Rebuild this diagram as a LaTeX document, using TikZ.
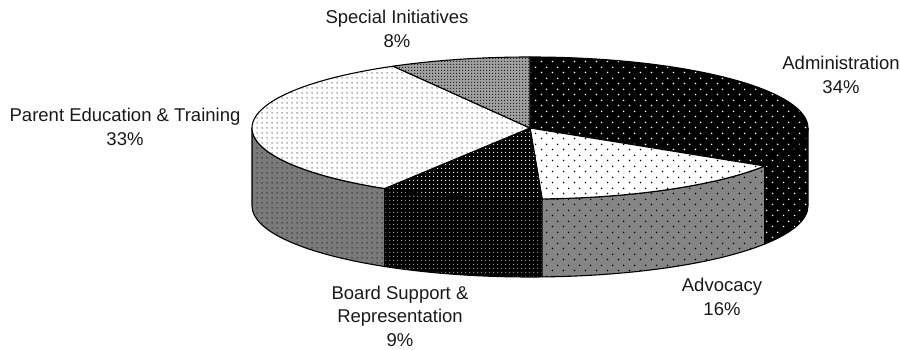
\documentclass[tikz,border=0pt]{standalone}
\usepackage{fontspec}
\setmainfont{Liberation Sans}
\usetikzlibrary{patterns,calc}

\pgfdeclarepatternformonly{sparsedots}{\pgfpointorigin}{\pgfpoint{11pt}{11pt}}{\pgfpoint{11pt}{11pt}}{%
  \pgfpathcircle{\pgfpoint{2.75pt}{2.75pt}}{0.9pt}%
  \pgfpathcircle{\pgfpoint{8.25pt}{8.25pt}}{0.9pt}%
  \pgfusepath{fill}}
\pgfdeclarepatternformonly{densedots}{\pgfpointorigin}{\pgfpoint{5pt}{5pt}}{\pgfpoint{5pt}{5pt}}{%
  \pgfpathcircle{\pgfpoint{2.5pt}{2.5pt}}{0.95pt}\pgfusepath{fill}}
\pgfdeclarepatternformonly{finedots}{\pgfpointorigin}{\pgfpoint{4pt}{4pt}}{\pgfpoint{4pt}{4pt}}{%
  \pgfpathcircle{\pgfpoint{2pt}{2pt}}{0.9pt}\pgfusepath{fill}}
\pgfdeclarepatternformonly{checkdots}{\pgfpointorigin}{\pgfpoint{3pt}{3pt}}{\pgfpoint{3pt}{3pt}}{%
  \pgfpathrectangle{\pgfpoint{0pt}{0pt}}{\pgfpoint{1.5pt}{1.5pt}}%
  \pgfusepath{fill}}

\definecolor{midgray}{HTML}{858585}
\definecolor{pargray}{HTML}{7A7A7A}
\definecolor{specgray}{HTML}{A0A0A0}

\tikzset{
  edge/.style={draw=black, line width=1.1pt, line join=round},
  admintop/.style={edge, preaction={fill=black}, pattern=sparsedots, pattern color=white},
  advtop/.style={edge, preaction={fill=white}, pattern=sparsedots, pattern color=black},
  advside/.style={edge, preaction={fill=midgray}, pattern=sparsedots, pattern color=black},
  boardtop/.style={edge, preaction={fill=black}, pattern=finedots, pattern color=white},
  boardside/.style={edge, preaction={fill=black}, pattern=finedots, pattern color=gray!80},
  partop/.style={edge, preaction={fill=white}, pattern=densedots, pattern color=black!55},
  parside/.style={edge, preaction={fill=pargray}, pattern=densedots, pattern color=black!80},
  spectop/.style={edge, preaction={fill=specgray}, pattern=checkdots, pattern color=black!85},
  ell/.style={x radius=278pt, y radius=71pt},
  lbl/.style={align=center, font=\fontsize{18.5}{23.5}\selectfont, text=black!90, inner sep=0pt}
}

\begin{document}
\begin{tikzpicture}[x=1pt, y=1pt]
\useasboundingbox (0,0) rectangle (900,350);
\coordinate (C) at (530,222);

% side faces
\path[parside] ($(C)+(180:278pt and 71pt)$) arc[ell, start angle=180, end angle=238.5]
  -- ++(0,-78) arc[ell, start angle=238.5, end angle=180] -- cycle;
\path[boardside] ($(C)+(238.5:278pt and 71pt)$) arc[ell, start angle=238.5, end angle=272.5]
  -- ++(0,-78) arc[ell, start angle=272.5, end angle=238.5] -- cycle;
\path[advside] ($(C)+(272.5:278pt and 71pt)$) arc[ell, start angle=272.5, end angle=327.6]
  -- ++(0,-78) arc[ell, start angle=327.6, end angle=272.5] -- cycle;
\path[admintop] ($(C)+(327.6:278pt and 71pt)$) arc[ell, start angle=327.6, end angle=360]
  -- ++(0,-78) arc[ell, start angle=360, end angle=327.6] -- cycle;

% top slices
\path[admintop] (C) -- ($(C)+(327.6:278pt and 71pt)$) arc[ell, start angle=327.6, end angle=450] -- cycle;
\path[advtop] (C) -- ($(C)+(272.5:278pt and 71pt)$) arc[ell, start angle=272.5, end angle=327.6] -- cycle;
\path[boardtop] (C) -- ($(C)+(238.5:278pt and 71pt)$) arc[ell, start angle=238.5, end angle=272.5] -- cycle;
\path[partop] (C) -- ($(C)+(119.5:278pt and 71pt)$) arc[ell, start angle=119.5, end angle=238.5] -- cycle;
\path[spectop] (C) -- ($(C)+(90:278pt and 71pt)$) arc[ell, start angle=90, end angle=119.5] -- cycle;

% labels
\node[lbl] (spec) at (397,321) {Special Initiatives\\8\%};
\node[lbl] (admin) at (841,275) {Administration\\34\%};
\node[lbl] (par) at (125,223) {Parent Education \& Training\\33\%};
\node[lbl] (board) at (400,34) {Board Support \&\\Representation\\9\%};
\node[lbl] (adv) at (722,53) {Advocacy\\16\%};
\end{tikzpicture}
\end{document}
